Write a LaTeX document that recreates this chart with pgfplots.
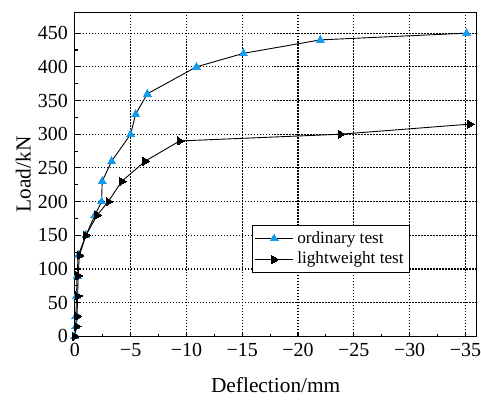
\documentclass[border=0pt]{standalone}
\usepackage{fontspec}
\setmainfont{Liberation Serif}
\usepackage{pgfplots}
\pgfplotsset{compat=1.18}
\definecolor{tri}{RGB}{20,155,240}
\begin{document}
\begin{tikzpicture}
\begin{axis}[
  width=201.3pt, height=162.4pt, scale only axis,
  x dir=reverse, xmin=-36, xmax=0, ymin=0, ymax=481,
  xtick={0,-5,-10,-15,-20,-25,-30,-35},
  xticklabels={0,−5,−10,−15,−20,−25,−30,−35},
  ytick={0,50,...,450},
  minor x tick num=1, minor y tick num=1,
  xtick pos=bottom, ytick pos=left, tick align=inside,
  major tick length=2.4pt, minor tick length=1.4pt,
  grid=major,
  grid style={black, line width=0.55pt, dash pattern=on 0.75pt off 0.75pt},
  axis line style={line width=0.65pt},
  every tick/.style={black, line width=0.55pt},
  tick label style={font=\fontsize{10}{11}\selectfont},
  xticklabel style={inner xsep=0pt},
  /pgf/number format/assume math mode=true,
  label style={font=\fontsize{10.7}{12}\selectfont},
  xlabel={Deflection/mm}, ylabel={Load/kN},
  xlabel style={at={(axis description cs:0.5,0)}, anchor=center, yshift=-24.5pt},
  ylabel style={at={(axis description cs:-0.128,0.5)}, anchor=center},
  clip=false,
  legend style={at={(axis description cs:0.442,0.194)}, anchor=south west,
    font=\fontsize{8.6}{10}\selectfont, draw=black, line width=0.55pt,
    inner sep=1pt, row sep=-1pt},
  legend cell align=left,
  legend image code/.code={\draw[mark repeat=2,mark phase=2] plot coordinates {(0cm,0cm)(0.33cm,0cm)(0.66cm,0cm)};},
  after end axis/.code={\path ([xshift=-37.5pt,yshift=-30.5pt]axis description cs:0,0) rectangle ([xshift=1.65pt,yshift=6.15pt]axis description cs:1,1);},
]
\addplot[black, line width=0.45pt, mark=triangle*, mark size=2.3pt,
  mark options={fill=tri, draw=tri, line width=0pt}]
  coordinates {(0,0)(-0.1,15)(-0.1,30)(-0.15,60)(-0.2,90)(-0.3,120)(-1,150)(-1.8,180)(-2.4,200)(-2.45,230)(-3.3,260)(-5,300)(-5.45,330)(-6.5,360)(-10.9,400)(-15.1,420)(-22,440)(-35.1,450)};
\addlegendentry{ordinary test}
\addplot[black, line width=0.45pt, mark=triangle*, mark size=2.3pt,
  mark options={fill=black, draw=black, line width=0pt, rotate=-90}]
  coordinates {(0,0)(-0.15,15)(-0.2,30)(-0.25,60)(-0.3,90)(-0.4,120)(-1,150)(-2,180)(-3,200)(-4.2,230)(-6.3,260)(-9.4,290)(-23.8,300)(-35.4,315)};
\addlegendentry{lightweight test}
\end{axis}
\end{tikzpicture}
\end{document}
